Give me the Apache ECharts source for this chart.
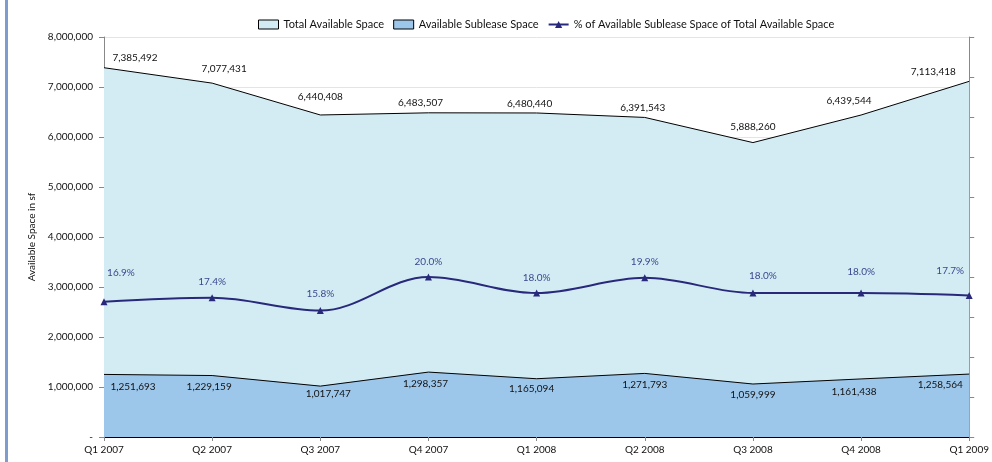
<!DOCTYPE html>
<html>
<head>
<meta charset="utf-8">
<script src="https://cdn.jsdelivr.net/npm/echarts@6/dist/echarts.min.js"></script>
<style>
  html, body { margin: 0; padding: 0; background: #ffffff; }
  #chart { width: 992px; height: 462px; }
</style>
</head>
<body>
<div id="chart"></div>
<script>
// Quarterly office availability, Q1 2007 – Q1 2009
const quarters = ['Q1 2007', 'Q2 2007', 'Q3 2007', 'Q4 2007', 'Q1 2008',
                  'Q2 2008', 'Q3 2008', 'Q4 2008', 'Q1 2009'];
const totalSpace = [7385492, 7077431, 6440408, 6483507, 6480440,
                    6391543, 5888260, 6439544, 7113418];
const subleaseSpace = [1251693, 1229159, 1017747, 1298357, 1165094,
                       1271793, 1059999, 1161438, 1258564];
const subleaseShare = [16.9, 17.4, 15.8, 20.0, 18.0, 19.9, 18.0, 18.0, 17.7];

const seriesNames = ['Total Available Space', 'Available Sublease Space',
                     '% of Available Sublease Space of Total Available Space'];

// label nudges so the value tags sit clear of the lines
const totalLabelShift = [[31, 0], [12, -4], [0, -8], [-8, 0], [-7, 1], [-2, 0], [0, -6], [-12, -4], [-36, 1]];
const subleaseLabelShift = [[29, 2], [-3, 1], [8, -2], [-3, 2], [-5, 0], [0, 1], [0, 1], [-7, 3], [-29, 1]];
const shareLabelShift = [[17, -16], [0, -3], [0, -3], [0, -2], [0, -2], [0, -3], [10, -4], [0, -8], [-19, -11]];

const FONT = 'Lato, "Open Sans", sans-serif';
const fmt = v => v.toLocaleString('en-US');

function withShift(values, shifts) {
  return values.map((v, i) => ({ value: v, label: { offset: shifts[i] } }));
}

const chart = echarts.init(document.getElementById('chart'), null, { renderer: 'canvas' });

chart.setOption({
  animation: false,
  textStyle: { fontFamily: FONT },
  graphic: [{
    type: 'rect',
    shape: { x: 5, y: 0, width: 3, height: 462 },
    style: { fill: '#7f9dcc' },
    silent: true
  }],
  legend: {
    top: 14,
    left: 253,
    itemGap: 9,
    itemWidth: 20,
    itemHeight: 9,
    textStyle: { fontFamily: FONT, fontSize: 11, color: '#111' },
    data: [
      { name: seriesNames[0], icon: 'rect', itemStyle: { color: '#d3ecf4', borderColor: '#000', borderWidth: 1, opacity: 1 } },
      { name: seriesNames[1], icon: 'rect', itemStyle: { color: '#9dc7ea', borderColor: '#000', borderWidth: 1, opacity: 1 } },
      { name: seriesNames[2] }
    ]
  },
  grid: { left: 104, right: 16, top: 37, bottom: 25 },
  xAxis: {
    type: 'category',
    data: quarters,
    boundaryGap: false,
    axisLine: { lineStyle: { color: '#000', width: 1 } },
    axisTick: { lineStyle: { color: '#888' }, length: 4, alignWithLabel: true },
    axisLabel: { fontFamily: FONT, fontSize: 10, color: '#111', margin: 8 },
    splitLine: { show: false }
  },
  yAxis: [{
    type: 'value',
    min: 0,
    max: 8000000,
    interval: 1000000,
    name: 'Available Space in sf',
    nameLocation: 'middle',
    nameGap: 61,
    nameTextStyle: { fontFamily: FONT, fontSize: 10, color: '#111' },
    axisLine: { show: true, lineStyle: { color: '#888' } },
    axisTick: { show: true, length: 5, lineStyle: { color: '#888' } },
    axisLabel: {
      fontFamily: FONT, fontSize: 10, color: '#111', margin: 11,
      formatter: v => (v === 0 ? '-' : fmt(v))
    },
    splitLine: { lineStyle: { color: '#e4e4e4', width: 1 } }
  }, {
    type: 'value',
    min: 0,
    max: 50,
    interval: 5,
    position: 'right',
    axisLine: { show: true, lineStyle: { color: '#888' } },
    axisTick: { show: true, length: 5, lineStyle: { color: '#888' } },
    axisLabel: { show: false },
    splitLine: { show: false }
  }],
  series: [{
    name: seriesNames[0],
    type: 'line',
    yAxisIndex: 0,
    data: withShift(totalSpace, totalLabelShift),
    showSymbol: true,
    symbol: 'circle',
    symbolSize: 0.1,
    lineStyle: { color: '#000', width: 1 },
    itemStyle: { color: '#d3ecf4', borderWidth: 0 },
    areaStyle: { color: '#d3ecf4', opacity: 1 },
    label: {
      show: true, position: 'top', distance: 5,
      fontFamily: FONT, fontSize: 10, color: '#111',
      formatter: p => fmt(p.value)
    },
    z: 1
  }, {
    name: seriesNames[1],
    type: 'line',
    yAxisIndex: 0,
    data: withShift(subleaseSpace, subleaseLabelShift),
    showSymbol: true,
    symbol: 'circle',
    symbolSize: 0.1,
    lineStyle: { color: '#000', width: 1 },
    itemStyle: { color: '#9dc7ea', borderWidth: 0 },
    areaStyle: { color: '#9dc7ea', opacity: 1 },
    label: {
      show: true, position: 'bottom', distance: 5,
      fontFamily: FONT, fontSize: 10, color: '#111',
      formatter: p => fmt(p.value)
    },
    z: 2
  }, {
    name: seriesNames[2],
    type: 'line',
    yAxisIndex: 1,
    data: withShift(subleaseShare, shareLabelShift),
    smooth: 0.35,
    symbol: 'triangle',
    symbolSize: 7,
    showSymbol: true,
    lineStyle: { color: '#28297a', width: 2 },
    itemStyle: { color: '#28297a' },
    label: {
      show: true, position: 'top', distance: 5,
      fontFamily: FONT, fontSize: 10, color: '#3b478e',
      formatter: p => p.value.toFixed(1) + '%'
    },
    z: 3
  }]
});
</script>
</body>
</html>
